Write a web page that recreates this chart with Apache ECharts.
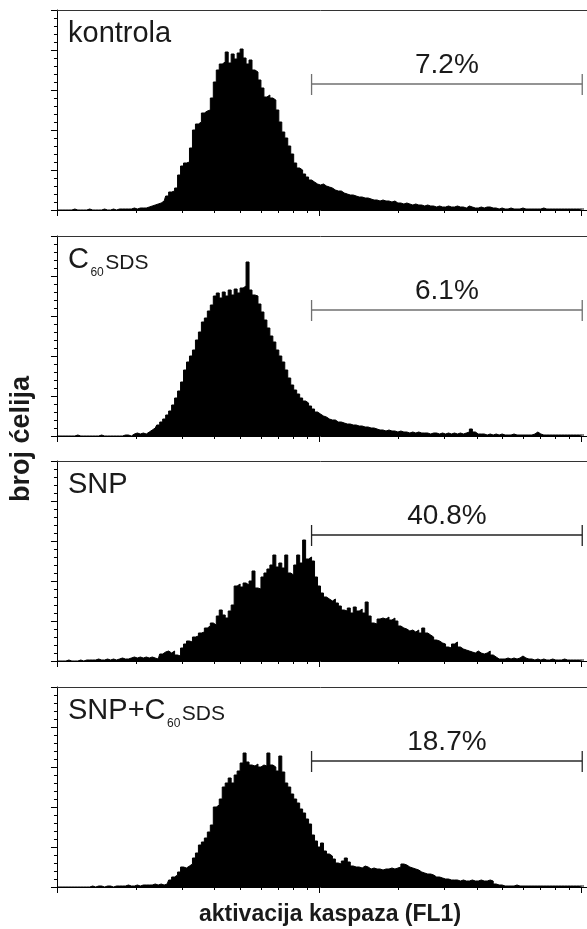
<!DOCTYPE html>
<html><head><meta charset="utf-8">
<script src="https://cdn.jsdelivr.net/npm/echarts@6/dist/echarts.min.js"></script>
<style>html,body{margin:0;padding:0;background:#fff}#c{width:587px;height:929px}</style>
</head><body><div id="c"></div><script>
// ---- data ----
const decadeMultipliers = [1, 2, 3, 4, 5, 6, 7, 8, 9];
const decades = [0, 1, 2];          // log10 of FL1 decade starts (1, 10, 100)
const binsPerDecade = 88;           // histogram channels per decade
const panelNames = ['kontrola', 'C60SDS', 'SNP', 'SNP+C60SDS'];
const gatePercent = ['7.2%', '6.1%', '40.8%', '18.7%'];
const gateStart = 85.5;             // channel
const gateEnd = 176.4;              // channel
const gateLevel = 126;              // count level of marker
const kontrola = [
0,0,0,0,0,0,1,0,0,0, 0,1,0,0,0,0,1,0,0,1, 0,1,1,1,1,1,2,1,2,2, 2,3,4,5,6,7,9,14,18,19,
22,35,44,47,48,62,80,86,88,97, 99,100,112,128,140,146,148,158,147,156, 151,157,161,152,146,150,140,138,130,122,
113,115,112,110,100,88,78,72,64,56, 47,42,40,36,33,30,28,26,25,26, 24,23,22,20,19,19,17,16,15,15,
14,13,13,12,12,11,10,10,9,10, 9,9,8,9,7,7,6,7,6,5, 6,5,5,4,5,4,4,3,4,3, 3,4,3,3,4,3,3,2,4,3,
2,2,3,2,3,3,2,2,1,2, 1,1,2,1,1,1,2,1,1,1, 1,1,1,2,1,1,1,1,1,1, 1,1,1,1,1,1,1,1];
const c60sds = [
0,0,0,0,0,0,0,1,0,0, 0,0,0,0,0,1,0,0,0,0, 0,0,0,1,1,0,2,3,2,3, 2,4,6,8,11,14,17,21,25,31,
38,45,54,66,74,80,86,96,104,114, 118,125,131,140,143,138,144,140,146,141, 147,143,148,150,174,146,141,140,132,124,
116,108,100,94,86,80,74,66,58,51, 46,42,38,35,33,30,27,24,22,20, 19,17,16,16,14,14,13,12,12,11,
11,10,10,9,9,8,8,7,6,6, 5,6,5,5,4,5,4,4,3,4, 3,4,3,3,3,2,3,3,2,3, 2,3,2,3,2,3,2,3,4,7,
4,2,2,2,1,2,1,2,1,2, 1,1,1,2,1,1,1,1,1,1, 2,4,2,1,1,1,1,1,1,1, 1,1,1,1,1,1,1,1];
const snp = [
0,0,0,0,1,0,0,0,1,0, 1,1,1,1,2,1,1,2,1,2, 1,2,3,2,2,3,4,3,4,3, 4,3,4,3,2,7,9,10,8,10,
6,5,13,17,20,19,24,25,28,29, 33,35,38,36,45,51,46,43,50,56, 75,77,74,78,76,80,90,73,72,84,
88,92,96,106,94,98,93,106,88,86, 96,106,98,121,102,104,100,84,75,68, 64,62,60,62,58,55,51,50,53,48,
54,50,52,48,59,45,38,37,42,43, 42,44,41,43,40,35,33,32,30,31, 29,31,28,33,28,26,24,21,20,18, 17,14,13,17,19,14,12,11,10,9,
8,10,8,7,8,10,6,4,2,2, 2,3,2,3,2,3,5,3,2,2, 1,2,1,2,1,1,2,1,1,1, 2,1,1,1,1,1,1,1];
const snpC60sds = [
0,0,0,0,0,0,0,0,0,0, 0,0,1,0,1,1,0,1,1,0, 1,1,1,1,2,1,1,2,1,2, 2,2,2,3,2,3,2,3,7,10,
12,15,20,19,21,23,29,34,42,45, 49,55,62,80,82,88,100,104,109,104, 112,116,124,134,125,122,121,123,120,122,
121,134,122,120,116,131,115,104,100,93, 88,84,78,74,68,63,52,46,40,44, 36,33,31,28,24,23,26,29,25,21,
20,20,19,21,20,18,19,18,18,17, 18,18,19,18,19,20,23,22,20,19, 18,17,15,14,13,13,12,10,10,9, 8,8,7,7,7,6,7,6,6,7,
6,6,7,6,6,7,6,3,2,2, 1,1,1,1,2,1,1,1,1,1, 1,1,1,1,1,1,1,1,1,1, 1,1,1,1,1,1,1,1];
const panelCounts = [kontrola, c60sds, snp, snpC60sds];
const xTitle = 'aktivacija kaspaza (FL1)';
const yTitle = 'broj ćelija';

// ---- chart ----
const FONT = "'Liberation Sans', Arial, sans-serif";
const panelTops = [10, 236, 461, 687];
const panelHeight = 200;
const gateColors = ['#707070', '#707070', '#222', '#2a2a2a'];

const majorTicks = decades.map(d => d * binsPerDecade);
const minorTicks = [];
decades.slice(0, -1).forEach(d => decadeMultipliers.slice(1).forEach(m => minorTicks.push((d + Math.log10(m)) * binsPerDecade)));

const measureCtx = document.createElement('canvas').getContext('2d');
function textWidth(t, font) { measureCtx.font = font; return measureCtx.measureText(t).width; }

const grid = [], xAxis = [], yAxis = [], series = [], graphic = [];
panelCounts.forEach((counts, k) => {
  grid.push({ left: 54, right: 0, top: panelTops[k], height: panelHeight });
  const base = { type: 'value', gridIndex: k, min: -1, max: 178, axisLabel: { show: false }, splitLine: { show: false } };
  xAxis.push(Object.assign({}, base, { position: 'bottom',
    axisLine: { show: true, onZero: false, lineStyle: { color: '#000', width: 1 } },
    axisTick: { show: true, length: 3, customValues: minorTicks, lineStyle: { color: '#000' } } }));
  xAxis.push(Object.assign({}, base, { position: 'bottom',
    axisLine: { show: false, onZero: false },
    axisTick: { show: true, length: 6, customValues: majorTicks, lineStyle: { color: '#000' } } }));
  xAxis.push(Object.assign({}, base, { position: 'top',
    axisLine: { show: true, onZero: false, lineStyle: { color: '#333', width: 1 } },
    axisTick: { show: false } }));
  yAxis.push({ type: 'value', gridIndex: k, min: 0, max: 200, interval: 40,
    axisLine: { show: true, lineStyle: { color: '#000', width: 1 } },
    axisTick: { show: true, length: 6, lineStyle: { color: '#000' } },
    minorTick: { show: true, splitNumber: 5, length: 3, lineStyle: { color: '#000' } },
    axisLabel: { show: false }, splitLine: { show: false }, minorSplitLine: { show: false } });
  series.push({ type: 'line', xAxisIndex: 3 * k, yAxisIndex: k, step: 'middle', symbol: 'none',
    data: counts.map((v, i) => [i, v]), lineStyle: { color: '#000', width: 1 },
    areaStyle: { color: '#000', opacity: 1 }, silent: true, animation: false });
  series.push({ type: 'custom', xAxisIndex: 3 * k, yAxisIndex: k, silent: true, animation: false,
    data: [[gateStart, gateEnd, gateLevel]],
    renderItem: (params, api) => {
      const p1 = api.coord([api.value(0), api.value(2)]);
      const p2 = api.coord([api.value(1), api.value(2)]);
      const st = { stroke: gateColors[k], lineWidth: 1.3 };
      return { type: 'group', children: [
        { type: 'line', shape: { x1: p1[0], y1: p1[1], x2: p2[0], y2: p2[1] }, style: st },
        { type: 'line', shape: { x1: p1[0], y1: p1[1] - 10, x2: p1[0], y2: p1[1] + 11 }, style: st },
        { type: 'line', shape: { x1: p2[0], y1: p2[1] - 10, x2: p2[0], y2: p2[1] + 11 }, style: st },
        { type: 'text', style: { text: gatePercent[k], x: (p1[0] + p2[0]) / 2, y: p1[1] - 9 - 0.3465 * 28,
          align: 'center', verticalAlign: 'middle', font: '28px ' + FONT, fill: '#1a1a1a' } }
      ] };
    } });

  // panel label (C60 written with subscript 60)
  const name = panelNames[k];
  const parts = [];
  const m = name.match(/^(.*C)60(SDS)$/);
  if (m) { parts.push({ t: m[1], s: 29, dy: 0 }, { t: '60', s: 12, dy: 6.5 }, { t: m[2], s: 21, dy: 0 }); }
  else parts.push({ t: name, s: 29, dy: 0 });
  let x = 68;
  const baseY = panelTops[k] + 34;
  parts.forEach((p, j) => {
    const font = p.s + 'px ' + FONT;
    graphic.push({ type: 'text', x: x, y: baseY + p.dy - 0.3465 * p.s, silent: true,
      style: { text: p.t, font: font, fill: '#1a1a1a', verticalAlign: 'middle', align: 'left' } });
    x += textWidth(p.t, font) + (j < parts.length - 1 ? 1.5 : 0);
  });
});

graphic.push({ type: 'text', x: 330, y: 923 - 0.3465 * 23, silent: true,
  style: { text: xTitle, font: 'bold 23px ' + FONT, fill: '#1a1a1a', align: 'center', verticalAlign: 'middle' } });
graphic.push({ type: 'text', x: 22, y: 439, rotation: Math.PI / 2, silent: true,
  style: { text: yTitle, font: 'bold 27px ' + FONT, fill: '#1a1a1a', align: 'center', verticalAlign: 'middle' } });

const chart = echarts.init(document.getElementById('c'));
chart.setOption({ animation: false, backgroundColor: '#fff', grid, xAxis, yAxis, series, graphic });
</script></body></html>
